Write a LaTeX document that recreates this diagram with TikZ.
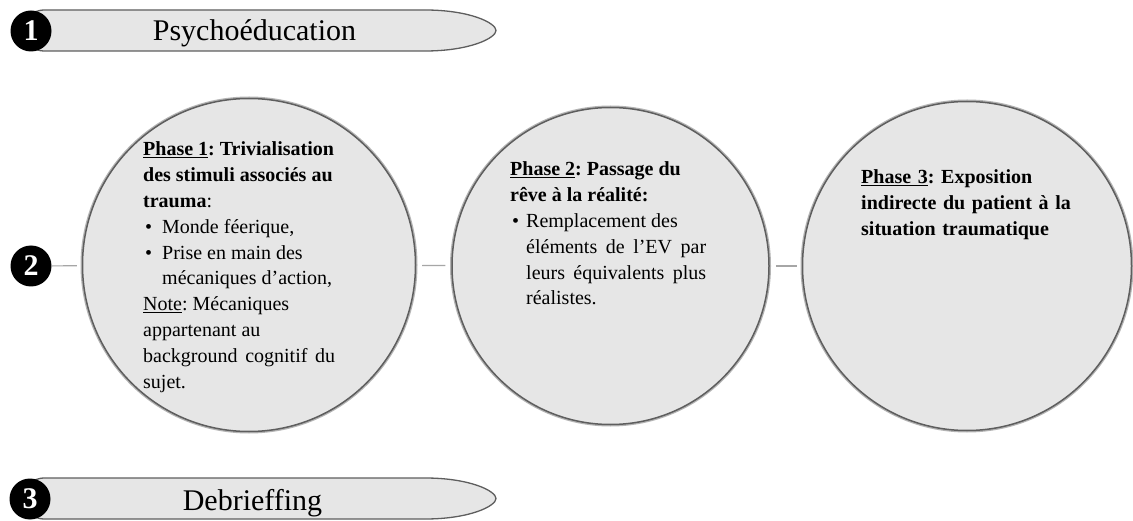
\documentclass[tikz,border=0pt]{standalone}
\usepackage{fontspec}
\setmainfont{Liberation Serif}
\frenchspacing
\definecolor{discfill}{HTML}{E6E6E6}
\definecolor{discline}{HTML}{5E5E5E}
\definecolor{discrim}{HTML}{B4B4B4}
\definecolor{linkgray}{HTML}{A6A6A6}
\tikzset{
  numdisc/.style={circle, fill=black, minimum size=41pt, inner sep=0pt,
    text=white, font=\bfseries\fontsize{30}{30}\selectfont},
  phasedisc/.style={circle, fill=discfill, draw=discline, line width=1.5pt, inner sep=0pt,
    preaction={draw=discrim, line width=4pt}},
  banner/.style={fill=discfill, draw=discline, line width=1.3pt},
  bannertext/.style={anchor=base, inner sep=0pt, font=\fontsize{30}{30}\selectfont},
  link/.style={draw=linkgray, line width=1.2pt},
  phasetext/.style={anchor=base west, inner sep=0pt, align=justify,
    font=\fontsize{20}{25.8}\selectfont},
}
% bullet in a box of the given width, continuation lines start at the same indent
\newcommand{\bulletmark}[1]{\noindent\makebox[#1][l]{\hspace{2pt}\textbullet}}
\begin{document}
\begin{tikzpicture}[x=1pt, y=-1pt]
  \useasboundingbox (0,0) rectangle (1133,521);
  \fill[white] (0,0) rectangle (1133,521);

  % top banner: Psychoeducation
  \path[banner] (45,10) -- (425,10)
    .. controls (470,10) and (496,23) .. (496,30.5)
    .. controls (496,38) and (470,51) .. (425,51) -- (45,51)
    .. controls (30,51) and (24,41) .. (24,30.5)
    .. controls (24,20) and (30,10) .. (45,10) -- cycle;
  \node[bannertext] (t1) at (254.5,41) {Psychoéducation};
  \node[numdisc] (n1) at (31,31) {1};

  % bottom banner: Debrieffing
  \path[banner] (45,478) -- (425,478)
    .. controls (470,478) and (496,491) .. (496,498.5)
    .. controls (496,506) and (470,519) .. (425,519) -- (45,519)
    .. controls (30,519) and (24,509) .. (24,498.5)
    .. controls (24,488) and (30,478) .. (45,478) -- cycle;
  \node[bannertext] (t3) at (252.5,510) {Debrieffing};
  \node[numdisc] (n3) at (30,499) {3};

  % the three phases
  \node[numdisc] (n2) at (31,266) {2};
  \node[phasedisc, minimum size=333pt] (p1) at (249,265) {};
  \node[phasedisc, minimum size=317pt] (p2) at (610.5,266) {};
  \node[phasedisc, minimum size=329pt] (p3) at (967,266) {};

  \draw[link, shorten >=5pt] (n2) -- (p1);
  \draw[link, shorten <=6pt, shorten >=6pt] (p1) -- (p2);
  \draw[link, shorten <=6pt, shorten >=5pt] (p2) -- (p3);

  \node[phasetext, text width=192pt] (p1t) at (143,156) {%
    \textbf{\underline{Phase 1}: Trivialisation\\ des stimuli associés au\\ trauma}:\par
    \bulletmark{19pt}Monde féerique,\par
    \bulletmark{19pt}Prise en main des\\\hspace*{19pt}mécaniques d’action,\par
    \underline{Note}: Mécaniques\\ appartenant au\\ background cognitif du\linebreak sujet.};

  \node[phasetext, text width=196pt] (p2t) at (510,176) {%
    \textbf{\underline{Phase 2}: Passage du\\ rêve à la réalité:}\par
    \bulletmark{16pt}Remplacement des\\\hspace*{16pt}éléments de l’EV par\linebreak
    \hspace*{16pt}leurs équivalents plus\linebreak \hspace*{16pt}réalistes.};

  \node[phasetext, text width=210pt, align=left] (p3t) at (861,184) {%
    \textbf{\underline{Phase 3}: Exposition\\ indirecte du patient à la\\ situation traumatique}};
\end{tikzpicture}
\end{document}
